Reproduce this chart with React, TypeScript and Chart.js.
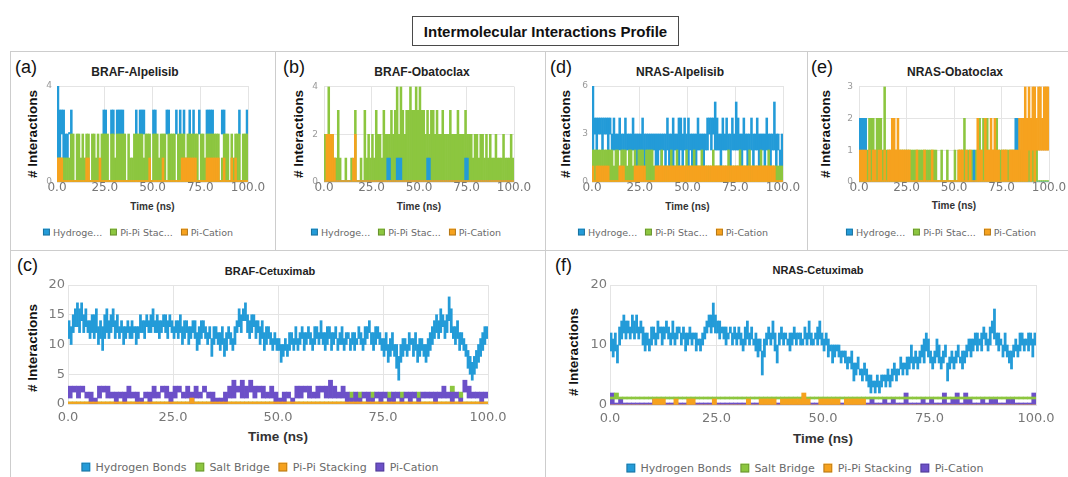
import React, { useEffect, useRef } from "react";
import { Chart, registerables } from "chart.js";

Chart.register(...registerables);

// ---------- colours ----------
const HB_BLUE = "#239bd8";
const PI_GREEN = "#8cc63f";
const CAT_ORANGE = "#f6a21e";
const CAT_PURPLE = "#6c50c8";

// ---------- time axis ----------
const TIME_MIN = 0;
const TIME_MAX = 100;
const TIME_STEP = 25;

// frame-bin centres in ns (1 ns bins and 0.5 ns bins)
const BINS_1NS = Array.from({ length: 100 }, (_, i) => i + 0.5);
const BINS_05NS = Array.from({ length: 200 }, (_, i) => i / 2 + 0.25);

// ---------- (a) BRAF-Alpelisib : per-bin [low, high] interaction counts ----------
const brafAlpHbLo = [
  1, 1, 2, 1, 1, 1, 2, 1, 0, 0,
  0, 0, 0, 0, 0, 0, 0, 0, 0, 0,
  0, 0, 0, 0, 2, 2, 0, 0, 2, 2,
  0, 2, 2, 2, 2, 0, 0, 0, 0, 0,
  0, 2, 0, 2, 2, 2, 0, 0, 0, 0,
  2, 2, 0, 0, 0, 0, 0, 2, 2, 0,
  0, 0, 2, 0, 2, 0, 2, 0, 0, 2,
  0, 2, 0, 0, 2, 0, 0, 0, 2, 2,
  2, 2, 0, 0, 0, 0, 2, 2, 0, 0,
  0, 0, 0, 0, 0, 2, 0, 0, 0, 2,
];
const brafAlpHbHi = [
  4, 3, 3, 3, 2, 2, 2, 3, 0, 0,
  0, 0, 0, 0, 0, 0, 0, 0, 0, 0,
  0, 0, 0, 0, 3, 3, 0, 0, 3, 3,
  0, 3, 3, 3, 3, 0, 0, 0, 0, 0,
  0, 3, 0, 3, 3, 3, 0, 0, 0, 0,
  3, 3, 0, 0, 0, 0, 0, 3, 3, 0,
  0, 0, 3, 0, 3, 0, 3, 0, 0, 3,
  0, 3, 0, 0, 3, 0, 0, 0, 3, 3,
  3, 3, 0, 0, 0, 0, 3, 3, 0, 0,
  0, 0, 0, 0, 0, 3, 0, 0, 0, 3,
];
const brafAlpPiPi = [
  1, 1, 1, 1, 1, 1, 1, 2, 2, 0,
  2, 2, 1, 2, 1, 2, 2, 0, 2, 2,
  1, 2, 0, 2, 2, 2, 2, 0, 2, 2,
  1, 2, 2, 2, 2, 2, 0, 2, 1, 1,
  2, 2, 2, 2, 2, 1, 2, 2, 2, 0,
  2, 2, 2, 1, 2, 2, 2, 0, 2, 2,
  2, 2, 0, 2, 2, 2, 2, 1, 2, 2,
  2, 2, 2, 2, 0, 2, 2, 1, 2, 2,
  2, 2, 2, 2, 2, 0, 1, 2, 2, 2,
  0, 2, 1, 2, 2, 2, 0, 2, 2, 2,
];
const brafAlpPiCat = [
  1, 1, 1, 0, 0, 0, 0, 0, 0, 0,
  0, 0, 0, 0, 0, 1, 1, 0, 0, 0,
  0, 0, 1, 0, 0, 0, 0, 0, 0, 0,
  0, 0, 0, 0, 0, 0, 0, 0, 0, 0,
  0, 0, 0, 0, 0, 0, 0, 0, 1, 0,
  0, 0, 0, 0, 0, 1, 0, 0, 0, 0,
  0, 0, 0, 0, 0, 1, 1, 1, 1, 1,
  1, 1, 1, 0, 0, 0, 0, 0, 1, 1,
  1, 1, 1, 1, 1, 0, 0, 1, 0, 0,
  0, 1, 0, 1, 0, 0, 0, 0, 0, 0,
];

// ---------- (b) BRAF-Obatoclax ----------
const brafObaHb = [
  0, 0, 0, 0, 0, 0, 0, 0, 0, 0,
  0, 0, 0, 0, 0, 0, 0, 0, 0, 0,
  0, 0, 0, 0, 0, 0, 0, 0, 0, 0,
  0, 0, 0, 1, 1, 0, 0, 0, 1, 1,
  1, 0, 0, 0, 0, 0, 0, 0, 0, 0,
  0, 0, 0, 0, 1, 1, 0, 0, 0, 0,
  0, 0, 0, 0, 0, 0, 0, 0, 0, 0,
  0, 0, 0, 0, 1, 1, 0, 0, 0, 0,
  0, 0, 0, 0, 0, 0, 0, 0, 0, 0,
  0, 0, 0, 0, 0, 0, 0, 0, 0, 0,
];
const brafObaPiPi = [
  2, 2, 4, 2, 2, 1, 1, 3, 1, 0,
  0, 1, 0, 0, 1, 0, 3, 0, 0, 1,
  0, 3, 1, 2, 1, 2, 1, 3, 2, 2,
  1, 3, 2, 2, 2, 3, 2, 3, 4, 2,
  4, 3, 2, 3, 3, 4, 3, 3, 4, 3,
  4, 3, 3, 2, 3, 2, 3, 3, 2, 3,
  2, 2, 3, 2, 2, 2, 3, 2, 2, 2,
  3, 2, 2, 2, 3, 2, 2, 2, 1, 2,
  2, 1, 2, 2, 1, 2, 1, 2, 1, 1,
  2, 1, 1, 1, 2, 1, 1, 1, 2, 1,
];
const brafObaPiCat = [
  0, 2, 2, 2, 2, 1, 0, 0, 0, 0,
  0, 0, 0, 0, 0, 1, 2, 0, 0, 0,
  0, 0, 0, 0, 0, 0, 0, 0, 0, 0,
  0, 0, 0, 0, 0, 0, 0, 0, 0, 0,
  0, 0, 0, 0, 0, 0, 0, 0, 0, 0,
  0, 0, 0, 0, 0, 0, 0, 0, 0, 0,
  0, 0, 0, 0, 0, 0, 0, 0, 0, 0,
  0, 0, 0, 0, 0, 0, 0, 0, 0, 0,
  0, 0, 0, 0, 0, 0, 0, 0, 0, 0,
  0, 0, 0, 0, 0, 0, 0, 0, 0, 0,
];

// ---------- (d) NRAS-Alpelisib ----------
const nrasAlpHbLo = [
  2, 3, 2, 3, 3, 2, 3, 3, 2, 3,
  2, 2, 2, 2, 2, 2, 2, 2, 2, 2,
  2, 2, 2, 1, 2, 2, 2, 1, 2, 2,
  1, 2, 2, 1, 1, 2, 1, 2, 1, 2,
  1, 2, 1, 2, 2, 1, 2, 1, 2, 2,
  1, 2, 1, 2, 1, 2, 2, 2, 1, 2,
  2, 3, 2, 3, 2, 2, 2, 1, 2, 2,
  2, 2, 1, 2, 2, 2, 2, 2, 1, 2,
  2, 1, 2, 2, 1, 2, 2, 1, 2, 2,
  1, 2, 2, 1, 2, 2, 1, 2, 1, 1,
];
const nrasAlpHbHi = [
  6, 4, 4, 4, 4, 4, 4, 4, 4, 4,
  3, 4, 3, 3, 4, 3, 3, 4, 3, 3,
  3, 4, 3, 3, 3, 3, 4, 3, 3, 3,
  3, 3, 3, 3, 3, 3, 3, 3, 3, 4,
  3, 3, 4, 3, 3, 4, 4, 3, 4, 3,
  4, 3, 3, 3, 3, 4, 3, 3, 3, 3,
  4, 4, 4, 4, 5, 4, 3, 3, 4, 3,
  4, 3, 3, 4, 3, 5, 4, 3, 3, 4,
  3, 3, 3, 4, 3, 3, 4, 3, 3, 3,
  3, 4, 3, 3, 3, 5, 3, 3, 2, 3,
];
const nrasAlpPiPi = [
  2, 2, 2, 2, 2, 2, 2, 2, 2, 2,
  2, 1, 2, 2, 1, 2, 2, 2, 1, 2,
  2, 1, 2, 1, 2, 2, 2, 1, 2, 2,
  2, 2, 1, 1, 1, 1, 2, 1, 1, 1,
  1, 2, 1, 1, 2, 1, 1, 1, 1, 2,
  1, 1, 1, 2, 1, 1, 1, 2, 1, 1,
  1, 1, 1, 2, 1, 1, 1, 1, 1, 1,
  1, 2, 1, 1, 1, 1, 1, 2, 1, 1,
  1, 1, 2, 1, 1, 1, 1, 1, 2, 1,
  1, 1, 2, 1, 1, 1, 1, 1, 1, 1,
];
const nrasAlpPiCat = [
  1, 0, 1, 1, 1, 1, 1, 1, 1, 0,
  0, 0, 0, 0, 1, 1, 1, 0, 0, 0,
  0, 0, 1, 1, 1, 1, 1, 1, 0, 0,
  0, 0, 0, 1, 1, 1, 1, 1, 1, 1,
  1, 1, 1, 1, 1, 1, 1, 1, 1, 1,
  1, 1, 1, 1, 1, 1, 1, 1, 1, 1,
  1, 1, 1, 1, 1, 1, 1, 1, 1, 1,
  1, 1, 1, 1, 1, 1, 1, 1, 1, 1,
  1, 1, 1, 1, 1, 1, 1, 1, 1, 1,
  1, 1, 1, 1, 1, 1, 0, 0, 0, 0,
];

// ---------- (e) NRAS-Obatoclax ----------
const nrasObaHbLo = [
  0, 1, 1, 1, 0, 0, 0, 0, 0, 0,
  0, 0, 0, 0, 0, 0, 0, 0, 0, 0,
  0, 0, 0, 0, 0, 0, 0, 0, 0, 0,
  0, 0, 0, 0, 0, 0, 0, 0, 0, 0,
  0, 0, 0, 0, 0, 0, 0, 0, 0, 0,
  0, 0, 0, 0, 0, 0, 0, 0, 0, 0,
  0, 0, 0, 0, 0, 0, 0, 0, 0, 0,
  0, 0, 0, 0, 0, 0, 0, 0, 0, 0,
  0, 0, 1, 1, 0, 0, 0, 0, 0, 0,
  0, 0, 0, 0, 0, 0, 0, 0, 0, 0,
];
const nrasObaHbHi = [
  2, 2, 2, 2, 0, 0, 0, 0, 0, 0,
  0, 0, 0, 0, 0, 0, 0, 0, 0, 0,
  0, 0, 0, 0, 0, 0, 0, 0, 0, 0,
  0, 0, 0, 0, 0, 0, 0, 0, 0, 0,
  0, 0, 0, 0, 0, 0, 0, 0, 0, 0,
  0, 0, 0, 0, 0, 0, 0, 0, 0, 0,
  1, 0, 0, 0, 0, 0, 0, 0, 0, 0,
  0, 0, 0, 0, 0, 0, 0, 0, 0, 0,
  0, 0, 2, 2, 0, 0, 0, 0, 0, 0,
  0, 0, 0, 0, 0, 0, 0, 0, 0, 0,
];
const nrasObaPiPi = [
  2, 2, 2, 2, 1, 2, 2, 2, 1, 2,
  2, 2, 1, 3, 1, 1, 1, 1, 1, 1,
  1, 1, 1, 1, 1, 1, 1, 1, 1, 1,
  1, 1, 1, 1, 1, 1, 1, 1, 1, 1,
  1, 0, 0, 1, 0, 0, 1, 0, 0, 0,
  1, 0, 1, 1, 1, 2, 1, 1, 1, 1,
  0, 1, 1, 2, 1, 2, 1, 2, 1, 1,
  1, 1, 2, 1, 1, 1, 1, 1, 1, 1,
  1, 1, 1, 1, 1, 1, 1, 1, 1, 1,
  1, 1, 1, 1, 0, 0, 0, 0, 0, 0,
];
const nrasObaPiCatLo = [
  0, 0, 0, 0, 0, 0, 0, 0, 0, 0,
  0, 0, 0, 0, 0, 0, 0, 0, 0, 0,
  0, 0, 0, 0, 0, 0, 0, 0, 0, 0,
  0, 0, 0, 0, 0, 0, 0, 0, 0, 0,
  0, 0, 0, 0, 0, 0, 0, 0, 0, 0,
  0, 0, 0, 0, 0, 0, 0, 0, 0, 0,
  0, 0, 0, 0, 0, 0, 0, 0, 0, 0,
  0, 0, 0, 0, 0, 0, 0, 0, 0, 0,
  0, 0, 0, 0, 0, 0, 0, 0, 0, 1,
  0, 1, 0, 1, 1, 1, 1, 1, 1, 1,
];
const nrasObaPiCatHi = [
  1, 1, 1, 1, 0, 1, 0, 1, 1, 0,
  1, 1, 0, 1, 0, 1, 1, 2, 2, 1,
  2, 1, 1, 1, 1, 1, 1, 0, 0, 0,
  1, 0, 0, 0, 1, 0, 0, 0, 1, 0,
  0, 0, 0, 0, 0, 0, 0, 0, 0, 0,
  0, 0, 1, 1, 1, 0, 1, 0, 1, 0,
  0, 0, 2, 1, 1, 0, 2, 1, 1, 2,
  1, 2, 1, 1, 0, 1, 1, 1, 0, 1,
  1, 1, 1, 1, 2, 2, 2, 3, 2, 3,
  2, 3, 3, 2, 3, 3, 2, 3, 3, 3,
];

// ---------- (c) BRAF-Cetuximab ----------
const brafCetHbLo = [
  11, 10, 12, 13, 13, 12, 14, 12, 13, 12,
  11, 12, 11, 12, 10, 11, 9, 11, 12, 11,
  12, 13, 11, 12, 11, 12, 10, 11, 12, 11,
  11, 12, 10, 11, 12, 12, 11, 13, 12, 12,
  13, 12, 12, 11, 12, 13, 12, 11, 13, 12,
  11, 12, 11, 12, 10, 11, 12, 10, 11, 12,
  11, 9, 10, 11, 12, 11, 10, 11, 8, 10,
  11, 10, 9, 10, 8, 9, 11, 10, 9, 10,
  12, 13, 12, 14, 14, 12, 11, 12, 13, 11,
  12, 10, 11, 9, 10, 11, 10, 9, 10, 9,
  9, 7, 8, 9, 8, 9, 10, 9, 10, 9,
  10, 11, 9, 10, 11, 10, 9, 10, 11, 10,
  11, 10, 9, 10, 11, 9, 10, 11, 9, 10,
  10, 9, 10, 11, 9, 10, 9, 10, 11, 10,
  9, 10, 11, 12, 10, 9, 10, 11, 10, 9,
  8, 9, 7, 8, 9, 8, 6, 4, 7, 8,
  9, 8, 9, 10, 8, 9, 7, 8, 9, 8,
  7, 8, 9, 10, 11, 12, 11, 12, 13, 11,
  12, 14, 12, 11, 10, 11, 9, 10, 9, 8,
  6, 5, 4, 5, 6, 7, 8, 9, 10, 11,
];
const brafCetHbHi = [
  14, 13, 15, 16, 17, 16, 17, 15, 16, 14,
  14, 15, 15, 16, 13, 14, 13, 15, 16, 14,
  15, 16, 14, 15, 13, 14, 13, 13, 14, 13,
  14, 13, 13, 13, 15, 14, 14, 15, 14, 15,
  16, 14, 15, 14, 14, 15, 15, 14, 15, 14,
  13, 14, 14, 15, 13, 14, 14, 13, 13, 14,
  14, 12, 13, 14, 14, 13, 12, 13, 11, 13,
  13, 12, 12, 13, 11, 12, 13, 12, 11, 13,
  14, 16, 15, 16, 17, 15, 14, 15, 15, 14,
  14, 13, 14, 12, 13, 13, 12, 11, 12, 11,
  11, 10, 10, 11, 10, 12, 12, 11, 13, 11,
  12, 13, 12, 12, 13, 12, 11, 13, 13, 12,
  14, 12, 12, 13, 13, 12, 12, 13, 11, 12,
  13, 11, 12, 12, 11, 12, 12, 11, 13, 12,
  11, 13, 13, 14, 12, 12, 13, 13, 12, 11,
  11, 12, 10, 11, 12, 10, 10, 8, 10, 11,
  11, 10, 12, 11, 11, 12, 10, 11, 11, 10,
  10, 11, 12, 13, 14, 15, 14, 16, 15, 14,
  15, 18, 16, 13, 13, 14, 12, 12, 11, 10,
  9, 8, 7, 8, 9, 10, 11, 12, 13, 13,
];
const brafCetSaltLo = [
  0, 0, 0, 0, 0, 0, 0, 0, 0, 0,
  0, 0, 0, 0, 0, 0, 0, 0, 0, 0,
  0, 0, 0, 0, 0, 0, 0, 0, 0, 0,
  0, 0, 0, 0, 0, 0, 0, 0, 0, 0,
  0, 0, 0, 0, 0, 0, 0, 0, 0, 0,
  0, 0, 0, 0, 0, 0, 0, 0, 0, 0,
  0, 0, 0, 0, 0, 0, 0, 1, 0, 1,
  0, 0, 1, 0, 0, 0, 1, 0, 0, 1,
  0, 0, 0, 1, 0, 0, 0, 0, 0, 0,
  0, 1, 0, 1, 0, 0, 0, 0, 0, 0,
];
const brafCetSaltHi = [
  0, 0, 0, 0, 0, 0, 0, 0, 0, 0,
  0, 0, 0, 0, 0, 0, 0, 0, 0, 0,
  0, 0, 0, 0, 0, 0, 0, 0, 0, 0,
  0, 0, 0, 0, 0, 0, 0, 0, 0, 0,
  0, 0, 0, 0, 0, 0, 0, 0, 0, 0,
  0, 0, 0, 0, 0, 0, 0, 0, 0, 0,
  0, 0, 0, 0, 0, 0, 0, 2, 0, 2,
  0, 0, 2, 0, 0, 0, 2, 0, 0, 2,
  0, 0, 0, 2, 0, 0, 0, 0, 0, 0,
  0, 3, 0, 2, 0, 0, 0, 0, 0, 0,
];
const brafCetPiPi = [
  0, 0, 0, 0, 0, 0, 0, 0, 0, 0,
  0, 0, 0, 0, 0, 0, 0, 0, 0, 0,
  0, 0, 0, 0, 0, 0, 0, 0, 0, 1,
  0, 0, 0, 0, 0, 0, 0, 0, 0, 0,
  0, 0, 0, 0, 0, 0, 0, 0, 0, 0,
  0, 0, 0, 0, 0, 0, 0, 0, 0, 0,
  0, 0, 0, 0, 0, 0, 0, 0, 0, 0,
  0, 0, 0, 0, 0, 0, 0, 0, 0, 0,
  0, 0, 0, 0, 0, 0, 0, 0, 0, 0,
  0, 0, 0, 0, 0, 0, 0, 0, 0, 0,
];
const brafCetPiCatLo = [
  1, 2, 1, 2, 1, 0, 0, 1, 2, 1,
  1, 0, 1, 0, 1, 1, 0, 0, 1, 0,
  1, 1, 2, 1, 0, 1, 2, 1, 1, 0,
  1, 1, 2, 1, 0, 0, 0, 0, 1, 1,
  2, 1, 1, 2, 1, 2, 1, 1, 1, 0,
  0, 0, 1, 0, 1, 1, 2, 1, 1, 1,
  2, 1, 1, 1, 1, 1, 0, 0, 0, 0,
  1, 0, 0, 1, 0, 1, 0, 0, 1, 0,
  1, 0, 1, 0, 1, 1, 1, 0, 1, 1,
  1, 0, 1, 0, 2, 1, 1, 1, 0, 1,
];
const brafCetPiCatHi = [
  3, 3, 3, 3, 2, 2, 1, 3, 3, 3,
  2, 2, 2, 2, 3, 2, 2, 1, 2, 2,
  3, 2, 3, 3, 2, 3, 3, 2, 3, 2,
  3, 2, 3, 2, 2, 1, 1, 2, 3, 4,
  3, 4, 3, 4, 3, 3, 3, 2, 3, 2,
  1, 2, 2, 1, 3, 3, 3, 3, 2, 3,
  3, 3, 4, 3, 2, 3, 2, 1, 2, 1,
  2, 2, 1, 2, 2, 2, 1, 2, 2, 1,
  2, 2, 2, 1, 2, 2, 2, 2, 2, 3,
  2, 2, 2, 1, 4, 3, 2, 2, 2, 2,
];

// ---------- (f) NRAS-Cetuximab ----------
const nrasCetHbLo = [
  9, 8, 9, 7, 10, 11, 12, 11, 12, 11,
  12, 11, 12, 11, 12, 10, 9, 10, 9, 10,
  11, 10, 11, 12, 10, 11, 12, 11, 10, 11,
  10, 11, 12, 10, 11, 9, 10, 11, 10, 11,
  9, 10, 9, 10, 11, 12, 13, 12, 13, 12,
  12, 11, 12, 11, 10, 11, 12, 10, 11, 10,
  11, 10, 9, 10, 11, 10, 11, 10, 9, 8,
  9, 5, 8, 10, 11, 10, 11, 9, 7, 10,
  11, 10, 11, 10, 9, 10, 11, 10, 11, 10,
  10, 11, 10, 11, 10, 10, 11, 10, 11, 10,
  9, 10, 8, 9, 7, 8, 9, 8, 7, 8,
  7, 6, 7, 6, 4, 5, 6, 5, 4, 5,
  4, 3, 2, 3, 2, 3, 2, 3, 4, 3,
  4, 3, 4, 5, 4, 5, 6, 5, 6, 5,
  6, 7, 6, 7, 6, 7, 8, 7, 9, 8,
  7, 6, 7, 8, 7, 6, 7, 8, 4, 6,
  7, 6, 7, 8, 7, 6, 7, 8, 9, 8,
  9, 10, 9, 10, 9, 11, 10, 9, 10, 12,
  11, 10, 9, 10, 8, 9, 8, 7, 6, 8,
  9, 8, 9, 10, 9, 10, 9, 10, 8, 10,
];
const nrasCetHbHi = [
  12, 11, 12, 10, 13, 14, 15, 14, 14, 13,
  15, 14, 15, 13, 14, 13, 12, 12, 11, 13,
  13, 12, 14, 13, 13, 13, 14, 13, 12, 14,
  12, 13, 13, 12, 13, 12, 12, 13, 12, 12,
  12, 11, 11, 12, 13, 14, 15, 15, 17, 15,
  14, 14, 13, 13, 13, 12, 13, 12, 13, 12,
  13, 12, 11, 13, 14, 12, 13, 11, 12, 11,
  11, 9, 11, 12, 13, 12, 14, 12, 10, 12,
  13, 12, 12, 11, 12, 12, 13, 12, 12, 12,
  11, 13, 12, 14, 12, 11, 12, 13, 14, 12,
  11, 12, 11, 10, 10, 10, 10, 10, 9, 9,
  9, 8, 8, 9, 7, 7, 8, 6, 6, 7,
  6, 5, 5, 4, 4, 5, 4, 5, 5, 5,
  6, 5, 6, 7, 6, 6, 8, 7, 7, 8,
  8, 10, 8, 9, 8, 9, 10, 11, 12, 11,
  9, 8, 9, 11, 10, 8, 9, 10, 7, 8,
  9, 8, 9, 10, 8, 9, 9, 10, 11, 11,
  11, 12, 12, 11, 12, 13, 12, 11, 13, 14,
  16, 12, 12, 11, 10, 12, 10, 9, 9, 10,
  11, 10, 12, 12, 11, 11, 12, 12, 11, 12,
];
const nrasCetSaltHi = [
  1, 2, 1, 1, 1, 1, 1, 1, 1, 1,
  1, 1, 1, 1, 1, 1, 1, 1, 1, 1,
  1, 1, 1, 1, 1, 1, 1, 1, 1, 1,
  1, 1, 1, 1, 1, 1, 1, 1, 1, 1,
  1, 1, 1, 1, 1, 1, 1, 1, 1, 1,
  1, 1, 1, 1, 1, 1, 1, 1, 1, 1,
  1, 1, 1, 1, 1, 1, 1, 1, 1, 1,
  1, 1, 1, 1, 1, 1, 1, 1, 1, 1,
  1, 1, 1, 1, 1, 1, 1, 1, 1, 1,
  1, 1, 1, 1, 1, 1, 1, 1, 1, 1,
];
const nrasCetPiPi = [
  0, 0, 0, 0, 0, 0, 0, 0, 0, 0,
  1, 1, 1, 0, 0, 1, 0, 0, 1, 1,
  0, 0, 0, 0, 1, 0, 0, 0, 0, 0,
  0, 0, 1, 0, 0, 1, 1, 1, 1, 0,
  1, 1, 1, 1, 1, 2, 1, 0, 0, 1,
  1, 1, 1, 1, 0, 1, 1, 1, 1, 1,
  0, 0, 0, 0, 0, 0, 0, 0, 0, 0,
  0, 0, 0, 0, 0, 0, 0, 0, 0, 0,
  0, 0, 0, 0, 0, 0, 0, 0, 0, 0,
  0, 0, 0, 0, 0, 0, 0, 0, 0, 0,
];
const nrasCetPiCat = [
  2, 0, 1, 0, 0, 0, 0, 0, 0, 0,
  1, 0, 0, 0, 0, 0, 0, 0, 0, 0,
  0, 0, 0, 0, 0, 0, 0, 0, 0, 0,
  0, 0, 0, 0, 0, 0, 0, 0, 0, 0,
  0, 0, 0, 0, 0, 0, 0, 0, 0, 0,
  0, 0, 0, 0, 0, 0, 0, 0, 0, 0,
  0, 1, 0, 0, 1, 0, 1, 0, 0, 2,
  0, 0, 0, 1, 0, 1, 0, 0, 2, 0,
  1, 2, 0, 2, 1, 0, 0, 1, 0, 1,
  1, 0, 0, 1, 1, 0, 0, 0, 0, 2,
];

// ---------- layout / style presets ----------
const SANS = '"Liberation Sans", Arial, sans-serif';
const DEJAVU = '"DejaVu Sans", Verdana, sans-serif';
const GRID = "#e4e4e4";

const SMALL = {
  tickX: 12, tickY: 9, tickYColor: "#9a9a9a", xPad: 0, title: 12, xTitle: 10,
  legend: 9.5, legendBox: 7, legendGap: 8, legendInner: 3, minBar: 1.5,
};
const LARGE = {
  tickX: 13, tickY: 13, tickYColor: "#7a7a7a", xPad: 7, title: 11, xTitle: 13.5,
  legend: 11, legendBox: 9, legendGap: 9, legendInner: 5, minBar: 2,
};

type Series = {
  label: string; short: string; color: string; x: number[];
  lo: number[] | number; hi: number[]; order: number; axis: string; minBar?: number;
};
type PanelDef = {
  tag: string; title: string; plot: { l: number; t: number; r: number; b: number };
  yMax: number; yStep: number; yPad: number; style: typeof SMALL;
  tagPos: [number, number]; titlePos: [number, number]; yTitlePos: [number, number];
  xTitleY: number; legendPos: [number, number]; series: Series[];
};

const s1 = (label: string, short: string, color: string, lo: number[] | number, hi: number[], order: number, minBar?: number): Series =>
  ({ label, short, color, x: BINS_1NS, lo, hi, order, axis: "x", minBar });
const s05 = (label: string, short: string, color: string, lo: number[] | number, hi: number[], order: number): Series =>
  ({ label, short, color, x: BINS_05NS, lo, hi, order, axis: "xb" });

const PANELS: PanelDef[] = [
  {
    tag: "(a)", title: "BRAF-Alpelisib", plot: { l: 57, t: 86, r: 248, b: 182 },
    yMax: 4, yStep: 4, yPad: 5, style: SMALL,
    tagPos: [15, 67], titlePos: [135, 72], yTitlePos: [32, 134], xTitleY: 206, legendPos: [138, 232],
    series: [
      s1("Hydrogen Bonds", "Hydroge...", HB_BLUE, brafAlpHbLo, brafAlpHbHi, 2),
      s1("Pi-Pi Stacking", "Pi-Pi Stac...", PI_GREEN, 0, brafAlpPiPi, 1),
      s1("Pi-Cation", "Pi-Cation", CAT_ORANGE, 0, brafAlpPiCat, 0),
    ],
  },
  {
    tag: "(b)", title: "BRAF-Obatoclax", plot: { l: 324, t: 86, r: 514, b: 182 },
    yMax: 4, yStep: 2, yPad: 6, style: SMALL,
    tagPos: [283, 67], titlePos: [422, 72], yTitlePos: [298, 134], xTitleY: 206, legendPos: [406, 232],
    series: [
      s1("Hydrogen Bonds", "Hydroge...", HB_BLUE, 0, brafObaHb, 1),
      s1("Pi-Pi Stacking", "Pi-Pi Stac...", PI_GREEN, 0, brafObaPiPi, 2),
      s1("Pi-Cation", "Pi-Cation", CAT_ORANGE, 0, brafObaPiCat, 0),
    ],
  },
  {
    tag: "(d)", title: "NRAS-Alpelisib", plot: { l: 592, t: 86, r: 783, b: 182 },
    yMax: 6, yStep: 3, yPad: 4, style: SMALL,
    tagPos: [550, 67], titlePos: [680, 72], yTitlePos: [565, 134], xTitleY: 206, legendPos: [673, 232],
    series: [
      s1("Hydrogen Bonds", "Hydroge...", HB_BLUE, nrasAlpHbLo, nrasAlpHbHi, 2),
      s1("Pi-Pi Stacking", "Pi-Pi Stac...", PI_GREEN, 0, nrasAlpPiPi, 1),
      s1("Pi-Cation", "Pi-Cation", CAT_ORANGE, 0, nrasAlpPiCat, 0),
    ],
  },
  {
    tag: "(e)", title: "NRAS-Obatoclax", plot: { l: 859, t: 86, r: 1049, b: 182 },
    yMax: 3, yStep: 1, yPad: 6, style: SMALL,
    tagPos: [811, 67], titlePos: [955, 72], yTitlePos: [825, 134], xTitleY: 205, legendPos: [941, 232],
    series: [
      s1("Hydrogen Bonds", "Hydroge...", HB_BLUE, nrasObaHbLo, nrasObaHbHi, 1, 0),
      s1("Pi-Pi Stacking", "Pi-Pi Stac...", PI_GREEN, 0, nrasObaPiPi, 2),
      s1("Pi-Cation", "Pi-Cation", CAT_ORANGE, nrasObaPiCatLo, nrasObaPiCatHi, 0),
    ],
  },
  {
    tag: "(c)", title: "BRAF-Cetuximab", plot: { l: 68, t: 285, r: 488, b: 404 },
    yMax: 20, yStep: 5, yPad: 3, style: LARGE,
    tagPos: [17, 265], titlePos: [270, 271], yTitlePos: [32, 348], xTitleY: 436, legendPos: [260, 467],
    series: [
      s05("Hydrogen Bonds", "Hydrogen Bonds", HB_BLUE, brafCetHbLo, brafCetHbHi, 3),
      s1("Salt Bridge", "Salt Bridge", PI_GREEN, brafCetSaltLo, brafCetSaltHi, 2),
      s1("Pi-Pi Stacking", "Pi-Pi Stacking", CAT_ORANGE, 0, brafCetPiPi, 0),
      s1("Pi-Cation", "Pi-Cation", CAT_PURPLE, brafCetPiCatLo, brafCetPiCatHi, 1),
    ],
  },
  {
    tag: "(f)", title: "NRAS-Cetuximab", plot: { l: 610, t: 285, r: 1036, b: 405 },
    yMax: 20, yStep: 10, yPad: 3, style: LARGE,
    tagPos: [555, 265], titlePos: [818, 270], yTitlePos: [573, 352], xTitleY: 438, legendPos: [805, 468],
    series: [
      s05("Hydrogen Bonds", "Hydrogen Bonds", HB_BLUE, nrasCetHbLo, nrasCetHbHi, 3),
      s1("Salt Bridge", "Salt Bridge", PI_GREEN, 1, nrasCetSaltHi, 1),
      s1("Pi-Pi Stacking", "Pi-Pi Stacking", CAT_ORANGE, 0, nrasCetPiPi, 0, 0),
      s1("Pi-Cation", "Pi-Cation", CAT_PURPLE, 0, nrasCetPiCat, 2),
    ],
  },
];

// margins around the plot area inside each canvas
const AX_L = 30;
const AX_T = 10;
const AX_R = 26;
const AX_B = 24;

const centered = (x: number, y: number): React.CSSProperties => ({
  position: "absolute", left: x, top: y, transform: "translate(-50%, -50%)",
  whiteSpace: "nowrap", lineHeight: 1,
});

function InteractionPanel({ p }: { p: PanelDef }) {
  const ref = useRef<HTMLCanvasElement | null>(null);
  const st = p.style;
  const w = p.plot.r - p.plot.l + AX_L + AX_R;
  const h = p.plot.b - p.plot.t + AX_T + AX_B;

  useEffect(() => {
    if (!ref.current) return;
    const datasets = p.series.map((s) => ({
      type: "bar" as const,
      label: s.label,
      data: s.hi.map((hi, i) => ({
        x: s.x[i],
        y: [typeof s.lo === "number" ? s.lo : s.lo[i], hi],
      })),
      xAxisID: s.axis,
      yAxisID: "y",
      backgroundColor: s.color,
      borderWidth: 0,
      grouped: false,
      categoryPercentage: 1,
      barPercentage: 1,
      minBarLength: s.minBar ?? st.minBar,
      order: s.order,
    }));

    const scales: any = {
      x: {
        type: "linear",
        min: TIME_MIN,
        max: TIME_MAX,
        offset: false,
        afterFit: (sc: any) => { sc.height = AX_B; },
        grid: { color: GRID, offset: false, drawTicks: false },
        border: { color: GRID },
        ticks: {
          stepSize: TIME_STEP,
          autoSkip: false,
          maxRotation: 0,
          padding: st.xPad,
          color: "#777",
          font: { family: DEJAVU, size: st.tickX, lineHeight: 1 },
          callback: (v: any) => Number(v).toFixed(1),
        },
      },
      y: {
        type: "linear",
        min: 0,
        max: p.yMax,
        afterFit: (sc: any) => { sc.width = AX_L; },
        grid: { color: GRID, drawTicks: false },
        border: { color: GRID },
        ticks: {
          stepSize: p.yStep,
          padding: p.yPad,
          color: st.tickYColor,
          font: { family: DEJAVU, size: st.tickY, lineHeight: 1 },
        },
      },
    };
    if (p.series.some((s) => s.axis === "xb")) {
      scales.xb = {
        type: "linear",
        display: false,
        min: TIME_MIN,
        max: TIME_MAX,
        offset: false,
        grid: { offset: false },
      };
    }

    const chart = new Chart(ref.current, {
      type: "bar",
      data: { datasets } as any,
      options: {
        responsive: false,
        animation: false,
        events: [],
        layout: { padding: { left: 0, top: AX_T, right: AX_R, bottom: 0 } },
        plugins: {
          legend: { display: false },
          title: { display: false },
          tooltip: { enabled: false },
        },
        scales,
      } as any,
    });
    return () => chart.destroy();
  }, []);

  const plotCx = (p.plot.l + p.plot.r) / 2;

  return (
    <>
      <div style={{ ...centered(p.tagPos[0], p.tagPos[1]), transform: "translate(0, -50%)", font: `18px ${SANS}`, color: "#111" }}>
        {p.tag}
      </div>
      <div style={{ ...centered(p.titlePos[0], p.titlePos[1]), font: `bold ${st.title}px ${SANS}`, color: "#222" }}>
        {p.title}
      </div>
      <div
        style={{
          ...centered(p.yTitlePos[0], p.yTitlePos[1]),
          transform: "translate(-50%, -50%) rotate(-90deg)",
          font: `bold 13.5px ${SANS}`,
          color: "#111",
        }}
      >
        # Interactions
      </div>
      <div style={{ ...centered(plotCx, p.xTitleY), font: `bold ${st.xTitle}px ${SANS}`, color: "#333" }}>
        Time (ns)
      </div>
      <canvas
        ref={ref}
        width={w}
        height={h}
        style={{ position: "absolute", left: p.plot.l - AX_L, top: p.plot.t - AX_T, width: w, height: h }}
      />
      <div
        style={{
          ...centered(p.legendPos[0], p.legendPos[1]),
          display: "flex",
          alignItems: "center",
          gap: st.legendGap,
          font: `${st.legend}px ${DEJAVU}`,
          color: "#6a6a6a",
        }}
      >
        {p.series.map((s) => (
          <span key={s.label} style={{ display: "flex", alignItems: "center", gap: st.legendInner }}>
            <span
              style={{
                display: "inline-block",
                width: st.legendBox,
                height: st.legendBox,
                background: s.color,
                boxShadow: "inset 0 0 0 1px rgba(0,0,0,0.28)",
              }}
            />
            <span>{s.short}</span>
          </span>
        ))}
      </div>
    </>
  );
}

const LINE = "#cdcdcd";

export default function App() {
  return (
    <div style={{ position: "fixed", left: 0, top: 0, width: 1068, height: 477, background: "#fff", overflow: "hidden" }}>
      {/* panel frame */}
      <div style={{ position: "absolute", left: 10, top: 51, width: 1058, height: 1, background: LINE }} />
      <div style={{ position: "absolute", left: 10, top: 250, width: 1058, height: 1, background: LINE }} />
      <div style={{ position: "absolute", left: 10, top: 51, width: 1, height: 426, background: LINE }} />
      <div style={{ position: "absolute", left: 275, top: 51, width: 1, height: 199, background: LINE }} />
      <div style={{ position: "absolute", left: 545, top: 51, width: 1, height: 426, background: LINE }} />
      <div style={{ position: "absolute", left: 807, top: 51, width: 1, height: 199, background: LINE }} />

      {/* figure heading */}
      <div
        style={{
          position: "absolute", left: 412, top: 16, width: 267, height: 30, boxSizing: "border-box",
          border: "1px solid #4a4a4a", display: "flex", alignItems: "center", justifyContent: "center",
          font: `bold 15px ${SANS}`, color: "#111", whiteSpace: "nowrap",
        }}
      >
        Intermolecular Interactions Profile
      </div>

      {PANELS.map((p) => (
        <InteractionPanel key={p.tag} p={p} />
      ))}
    </div>
  );
}
